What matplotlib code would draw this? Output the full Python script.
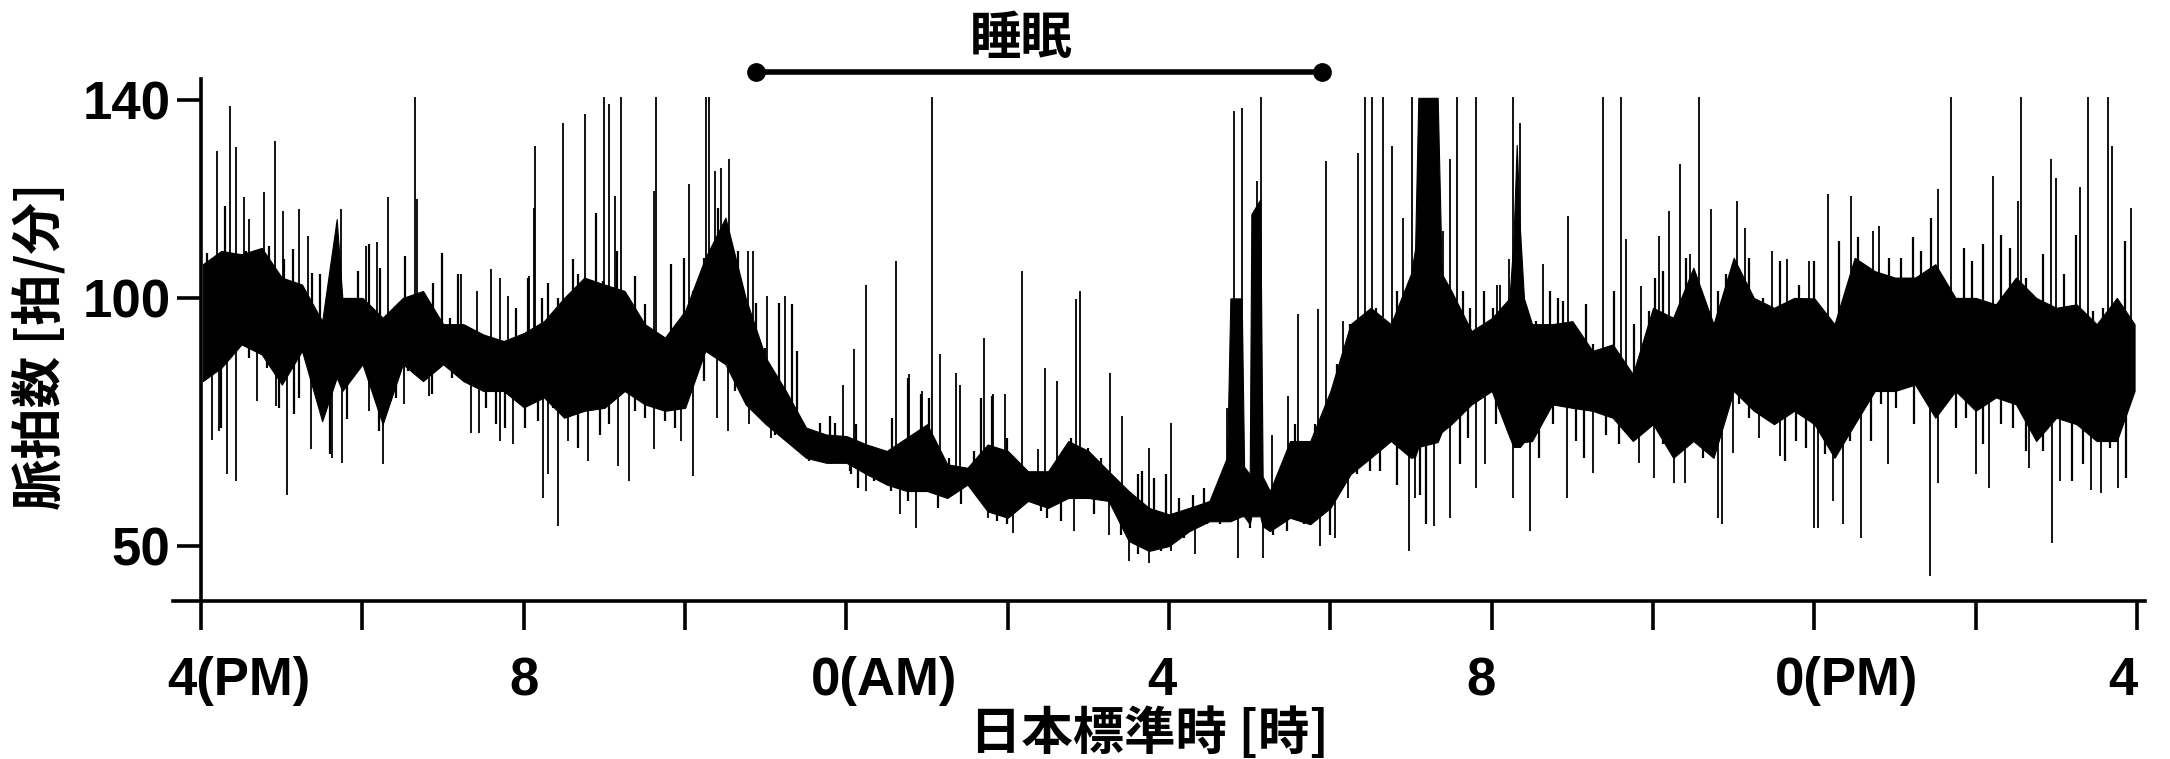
import numpy as np
import matplotlib.pyplot as plt

# time axis: hours after 4 PM; values in beats/min
core_t = [0.02, 0.25, 0.5, 0.75, 1.0, 1.25, 1.5, 1.68, 1.75, 2.0, 2.25, 2.5,
          2.75, 3.0, 3.25, 3.5, 3.75, 4.0, 4.25, 4.5, 4.75, 5.0, 5.25, 5.5,
          5.75, 6.0, 6.25, 6.5, 6.75, 7.0, 7.25, 7.5, 7.75, 8.0, 8.25, 8.5,
          8.75, 9.0, 9.25, 9.5, 9.75, 10.0, 10.25, 10.5, 10.75, 11.0, 11.25,
          11.5, 11.75, 12.0, 12.25, 12.5, 12.72, 12.76, 12.9, 12.93, 13.0,
          13.02, 13.13, 13.16, 13.25, 13.5, 13.75, 14.0, 14.25, 14.5, 14.75,
          15.0, 15.05, 15.09, 15.33, 15.38, 15.5, 15.75, 16.0, 16.22, 16.27,
          16.31, 16.35, 16.4, 16.5, 16.75, 17.0, 17.25, 17.5, 17.75, 18.0,
          18.25, 18.5, 18.75, 19.0, 19.25, 19.5, 19.75, 20.0, 20.25, 20.5,
          20.75, 21.0, 21.25, 21.5, 21.75, 22.0, 22.25, 22.5, 22.75, 23.0,
          23.25, 23.5, 23.75, 23.97]
core_hi = [106.9, 109.6, 108.9, 110.2, 104.2, 102.8, 95.4, 116.0, 100.1, 100.1,
           96.1, 100.1, 101.5, 94.8, 94.8, 92.7, 91.4, 93.0, 95.4, 100.1,
           104.2, 102.8, 101.5, 94.8, 92.1, 97.5, 108.2, 116.3, 100.1, 88.0,
           81.3, 73.9, 72.5, 72.2, 70.5, 69.2, 71.9, 74.6, 66.5, 65.8, 70.5,
           69.2, 65.1, 65.1, 71.2, 69.2, 65.1, 61.1, 57.7, 56.4, 57.7, 59.1,
           68.0, 100.0, 100.0, 66.0, 64.5, 117.0, 120.0, 64.0, 61.1, 71.2,
           71.2, 81.3, 94.8, 98.1, 94.8, 105.0, 110.0, 140.5, 140.5, 105.0,
           101.5, 93.4, 96.0, 100.0, 112.0, 131.0, 114.0, 100.0, 94.8, 94.8,
           95.4, 89.4, 90.7, 84.7, 98.1, 96.1, 106.2, 94.8, 108.2, 100.1, 98.1,
           100.1, 100.0, 94.8, 108.2, 105.5, 104.2, 104.2, 106.9, 100.1, 100.1,
           98.8, 104.2, 100.1, 98.1, 98.8, 94.8, 100.1, 94.8]
core_lo = [83.3, 86.0, 90.7, 88.7, 82.6, 89.4, 75.2, 84.0, 81.3, 86.7, 74.6,
           86.7, 83.3, 86.7, 83.3, 81.3, 81.3, 78.0, 80.0, 75.9, 77.3, 77.9,
           81.3, 78.6, 77.3, 77.9, 89.4, 86.7, 78.6, 74.6, 71.2, 67.8, 66.8,
           66.8, 64.5, 62.4, 61.1, 61.1, 59.7, 62.4, 57.0, 55.7, 59.1, 57.7,
           59.7, 59.7, 59.1, 51.0, 49.0, 50.0, 53.0, 55.0, 55.0, 55.0, 56.0,
           56.0, 54.4, 56.0, 56.0, 54.0, 53.0, 55.7, 54.4, 57.7, 64.5, 67.8,
           71.2, 67.8, 68.0, 70.0, 71.0, 73.0, 74.6, 78.6, 81.3, 72.0, 70.0,
           70.0, 70.0, 71.0, 71.2, 78.6, 77.9, 77.3, 75.9, 71.2, 74.6, 67.8,
           71.2, 67.8, 81.3, 77.3, 74.6, 77.3, 74.6, 67.8, 74.6, 81.3, 81.3,
           82.6, 75.9, 81.3, 77.3, 80.0, 78.6, 71.2, 75.9, 74.6, 71.2, 71.2,
           81.3]

# tall upward excursions (time, peak)
up_t = [0.20, 0.36, 0.43, 0.53, 0.59, 0.78, 0.91, 1.02, 1.21, 1.33, 1.73,
        2.04, 2.18, 2.32, 2.65, 2.68, 2.99, 3.22, 3.42, 3.59, 3.71, 3.81,
        4.06, 4.13, 4.14, 4.49, 4.76, 5.00, 5.05, 5.13, 5.21, 5.62, 5.64,
        6.05, 6.26, 6.29, 6.37, 6.45, 6.55, 6.78, 6.84, 7.01, 7.24, 7.96,
        8.09, 8.24, 8.62, 8.78, 8.94, 9.06, 9.16, 9.36, 9.41, 9.71, 9.82,
        9.97, 10.18, 10.37, 10.46, 10.61, 10.84, 10.90, 11.27, 11.42, 11.75,
        12.02, 12.72, 12.81, 12.90, 13.09, 13.14, 13.27, 13.48, 13.60, 13.85,
        13.95, 14.16, 14.34, 14.43, 14.51, 14.65, 14.76, 14.90, 15.01, 15.40,
        15.48, 15.57, 15.81, 16.06, 16.10, 16.22, 16.26, 16.35, 16.63, 16.95,
        17.38, 17.60, 17.67, 17.85, 18.08, 18.20, 18.33, 18.46, 18.57, 18.72,
        19.04, 19.14, 19.48, 19.66, 19.93, 20.17, 20.46, 20.73, 20.80, 21.53,
        21.70, 22.21, 22.52, 22.56, 22.94, 23.00, 23.29, 23.39, 23.64, 23.69,
        23.92]
up_v = [129.8, 138.9, 130.5, 120.4, 116.0, 121.4, 131.8, 117.7, 118.0, 112.6,
        118.0, 110.6, 111.3, 120.4, 140.6, 120.0, 109.2, 104.9, 101.5, 105.9,
        104.2, 100.5, 104.5, 118.3, 130.8, 135.5, 137.2, 140.6, 139.2, 120.7,
        140.6, 121.7, 140.6, 123.0, 140.6, 140.6, 125.7, 126.4, 128.1, 109.6,
        109.6, 100.5, 100.5, 82.6, 89.7, 102.8, 107.6, 84.7, 81.3, 140.6,
        88.7, 85.0, 82.6, 92.1, 80.6, 80.6, 105.5, 69.5, 86.0, 83.3, 99.8,
        101.5, 85.0, 76.2, 69.8, 74.9, 77.9, 137.9, 138.5, 123.7, 140.6, 72.5,
        80.3, 96.8, 97.8, 127.8, 95.4, 129.4, 140.6, 140.6, 140.6, 130.8,
        116.3, 140.6, 113.6, 128.1, 140.6, 140.6, 102.8, 102.8, 107.9, 140.6,
        135.5, 106.9, 116.6, 140.6, 140.6, 111.9, 102.5, 112.6, 117.7, 127.1,
        108.9, 140.6, 118.0, 119.7, 114.3, 109.6, 107.9, 107.6, 121.0, 120.7,
        113.6, 114.6, 122.0, 140.6, 124.7, 119.7, 140.6, 128.1, 124.4, 122.4,
        140.6, 140.6, 130.8, 118.3]

# shorter upward flicker around the band
up2_t = [0.07, 0.29, 0.55, 0.67, 0.84, 1.03, 1.14, 1.38, 1.47, 1.95, 2.08,
         2.22, 2.41, 2.53, 2.88, 2.98, 3.09, 3.19, 3.90, 4.05, 4.22, 4.30,
         4.43, 4.61, 4.67, 4.90, 4.98, 5.15, 5.38, 5.50, 5.83, 5.99, 6.10,
         6.24, 6.41, 6.66, 6.88, 6.99, 7.17, 7.32, 7.39, 7.67, 7.79, 7.86,
         8.12, 8.34, 8.57, 8.76, 8.92, 9.02, 9.27, 9.58, 9.67, 9.81, 9.99,
         10.24, 10.61, 10.78, 10.99, 11.15, 11.44, 11.61, 11.67, 11.81, 11.96,
         12.12, 12.30, 12.43, 12.61, 13.29, 13.38, 13.56, 13.67, 13.81, 14.08,
         14.24, 14.57, 14.82, 15.65, 15.73, 15.90, 16.01, 16.55, 16.72, 16.82,
         16.88, 17.17, 17.25, 17.52, 17.77, 17.95, 18.02, 18.12, 18.41, 18.51,
         18.80, 18.91, 18.99, 19.19, 19.36, 19.57, 19.81, 20.00, 20.31, 20.54,
         20.60, 20.93, 21.08, 21.22, 21.32, 21.45, 21.86, 21.96, 22.09, 22.32,
         22.42, 22.63, 22.83, 23.10, 23.25, 23.45, 23.58, 23.85]
up2_v = [109.2, 118.7, 109.6, 108.9, 110.6, 107.9, 109.9, 105.2, 104.9, 105.5,
         110.9, 106.2, 96.1, 108.6, 103.2, 109.2, 96.1, 104.9, 98.1, 104.2,
         100.1, 103.2, 100.1, 107.9, 104.9, 117.3, 103.5, 109.6, 104.5, 98.8,
         106.9, 108.2, 101.5, 108.2, 118.3, 109.6, 99.1, 90.0, 99.1, 98.8,
         89.4, 74.9, 76.2, 74.9, 74.6, 69.8, 75.9, 84.0, 80.6, 79.9, 67.8,
         69.2, 79.9, 80.3, 71.9, 65.1, 65.8, 71.9, 69.8, 67.8, 61.8, 64.5,
         65.1, 63.8, 64.5, 59.7, 60.4, 61.8, 61.4, 60.4, 64.5, 74.6, 65.1,
         74.6, 86.7, 94.8, 98.1, 101.5, 101.5, 98.1, 101.5, 98.1, 95.4, 101.5,
         100.1, 99.5, 98.8, 90.7, 101.5, 94.8, 97.5, 104.2, 105.5, 108.2,
         105.5, 101.5, 104.9, 106.9, 108.2, 100.1, 107.6, 102.8, 107.6, 111.6,
         112.3, 106.2, 108.2, 108.2, 112.3, 109.6, 116.3, 110.2, 107.6, 110.9,
         112.9, 110.2, 104.2, 108.9, 104.9, 112.9, 97.5, 98.1, 111.6]

# tall downward excursions (time, trough)
dn_t = [0.14, 0.22, 0.32, 0.43, 0.69, 0.93, 1.07, 1.36, 1.62, 1.75, 2.08,
        2.26, 2.51, 2.82, 3.34, 3.44, 3.70, 3.86, 4.02, 4.24, 4.30, 4.43,
        4.55, 4.80, 5.17, 5.31, 5.62, 5.95, 6.10, 6.40, 6.53, 6.79, 7.07,
        8.24, 8.67, 8.86, 9.75, 10.06, 10.82, 11.26, 11.50, 11.75, 12.03,
        12.32, 12.85, 13.16, 13.87, 14.06, 14.22, 14.97, 15.05, 15.28, 15.48,
        15.81, 15.92, 16.26, 16.47, 16.93, 17.25, 17.83, 18.01, 18.26, 18.40,
        18.80, 18.86, 18.99, 19.32, 19.57, 19.99, 20.04, 20.23, 20.35, 20.58,
        20.91, 21.43, 21.53, 22.01, 22.17, 22.66, 22.95, 23.04, 23.43, 23.56,
        23.76]
dn_v = [71.5, 73.2, 64.5, 63.1, 79.3, 78.3, 60.4, 69.5, 67.8, 66.8, 77.3,
        66.5, 78.6, 80.3, 72.9, 72.9, 71.2, 70.5, 74.6, 59.7, 64.5, 54.0,
        71.2, 67.1, 66.1, 63.1, 69.5, 71.2, 64.1, 75.9, 73.2, 74.6, 71.9,
        61.1, 56.4, 53.7, 55.7, 52.7, 53.0, 52.3, 47.0, 46.6, 49.0, 48.3,
        47.6, 47.6, 50.0, 51.7, 59.7, 49.0, 59.7, 54.0, 55.7, 61.8, 66.5,
        59.7, 53.0, 59.7, 64.8, 66.8, 63.8, 62.8, 62.8, 55.7, 54.4, 68.8,
        71.9, 68.1, 53.7, 53.7, 59.1, 54.4, 51.7, 66.5, 43.9, 62.8, 64.5,
        61.8, 65.8, 50.7, 63.1, 61.4, 60.8, 61.8]

# shorter downward flicker around the band
dn2_t = [0.24, 0.59, 0.82, 0.96, 1.15, 1.21, 1.50, 1.60, 1.81, 1.98, 2.20,
         2.41, 2.57, 2.72, 2.86, 3.11, 3.53, 3.65, 3.77, 4.01, 4.18, 4.36,
         4.67, 4.94, 5.05, 5.38, 5.50, 5.75, 5.87, 6.24, 6.33, 6.62, 6.91,
         7.11, 7.40, 7.53, 7.81, 8.06, 8.05, 8.14, 8.34, 8.55, 8.76, 9.13,
         9.42, 9.67, 9.87, 9.99, 10.41, 10.49, 10.66, 11.07, 11.40, 11.61,
         11.90, 12.18, 12.47, 12.63, 13.00, 13.29, 13.46, 13.67, 14.00, 14.33,
         14.49, 14.62, 14.82, 15.11, 15.19, 15.61, 15.71, 16.05, 16.59, 16.76,
         17.05, 17.15, 17.42, 17.58, 17.71, 18.12, 18.49, 18.62, 19.07, 19.19,
         19.44, 19.63, 19.77, 19.90, 20.13, 20.44, 20.70, 20.83, 21.01, 21.24,
         21.76, 21.88, 22.09, 22.32, 22.46, 22.63, 22.83, 23.20, 23.33, 23.66,
         23.86]
dn2_v = [73.9, 88.0, 86.0, 77.9, 76.6, 79.9, 82.6, 68.5, 75.6, 88.0, 73.2,
         79.9, 85.3, 84.0, 80.6, 84.0, 77.9, 74.6, 73.9, 73.9, 75.2, 77.9,
         69.8, 72.5, 74.6, 77.3, 75.9, 75.2, 73.9, 83.3, 94.1, 81.3, 77.9,
         72.5, 69.2, 67.1, 66.5, 64.5, 65.1, 61.8, 63.1, 61.1, 59.1, 57.7,
         58.4, 61.1, 55.0, 54.4, 57.0, 55.7, 55.0, 56.4, 52.3, 48.3, 49.0,
         51.7, 54.4, 54.4, 53.7, 52.3, 53.0, 54.4, 52.3, 64.5, 65.1, 65.1,
         62.4, 60.4, 54.4, 66.5, 71.9, 74.6, 67.8, 74.6, 71.2, 67.8, 72.5,
         70.5, 74.6, 70.5, 74.6, 67.8, 78.6, 75.9, 75.2, 67.1, 71.2, 69.8,
         68.5, 71.2, 71.2, 78.6, 77.9, 74.6, 73.9, 75.9, 70.5, 74.6, 73.9,
         69.2, 69.2, 63.1, 66.5, 69.8, 63.8]

sleep_start, sleep_end = 6.88, 13.89
xtick_pos = list(range(0, 25, 2))
xtick_lab = {0: '4(PM)', 4: '8', 8: '0(AM)', 12: '4', 16: '8', 20: '0(PM)', 24: '4'}
xlab_shift = {0: 27, 4: 0, 8: 27, 12: -5, 16: -8, 20: 23, 24: -10}  # points
ytick_pos = [50, 100, 140]

num_font = ['Liberation Sans', 'DejaVu Sans']
jp_font = ['Noto Sans CJK JP', 'DejaVu Sans']

fig = plt.figure(figsize=(21.7, 7.59), dpi=100)
ax = fig.add_axes([0.0797, 0.2082, 0.9088, 0.6877])

ct = np.array(core_t)
chi = np.array(core_hi)
clo = np.array(core_lo)
ax.fill_between(ct, clo, chi, color='black', linewidth=0.8)

mid = (chi + clo) / 2
for tt, vv, w in [(up_t, up_v, 1.3), (up2_t, up2_v, 1.6),
                  (dn_t, dn_v, 1.3), (dn2_t, dn2_v, 1.6)]:
    base = np.interp(tt, ct, mid)
    ax.vlines(tt, base, vv, color='black', linewidth=w)

ax.set_xlim(-0.35, 24.1)
ax.set_ylim(38.9, 144.3)

for s in ['top', 'right']:
    ax.spines[s].set_visible(False)
ax.spines['left'].set_position(('data', 0))
ax.spines['left'].set_linewidth(2.6)
ax.spines['bottom'].set_linewidth(2.6)

ax.set_xticks(xtick_pos)
ax.set_xticklabels([])
for p, lab in xtick_lab.items():
    ax.annotate(lab, xy=(p, 0), xycoords=('data', 'axes fraction'),
                xytext=(xlab_shift[p], -68), textcoords='offset points',
                ha='center', va='baseline', fontfamily=num_font,
                fontweight='bold', fontsize=38, annotation_clip=False)
ax.set_yticks(ytick_pos)
ax.set_yticklabels([str(v) for v in ytick_pos],
                   fontfamily=num_font, fontweight='bold', fontsize=38)
ax.tick_params(axis='x', direction='out', length=21, width=2.6)
ax.tick_params(axis='y', direction='out', length=17, width=2.6, pad=5)

# sleep period bar
ax.plot([sleep_start, sleep_end], [145.8, 145.8], color='black', linewidth=4,
        marker='o', markersize=12.5, clip_on=False)
fig.text(1021 / 2170, 1 - 38 / 759, '睡眠', ha='center', va='center',
         fontfamily=jp_font, fontweight='bold', fontsize=37)

fig.text(1149 / 2170, 1 - 733 / 759, '日本標準時 [時]', ha='center', va='center',
         fontfamily=jp_font, fontweight='bold', fontsize=37)
fig.text(41 / 2170, 1 - 346 / 759, '脈拍数 [拍/分]', ha='center', va='center',
         rotation=90, fontfamily=jp_font, fontweight='bold', fontsize=37)

fig.savefig('out.png', dpi=100)
